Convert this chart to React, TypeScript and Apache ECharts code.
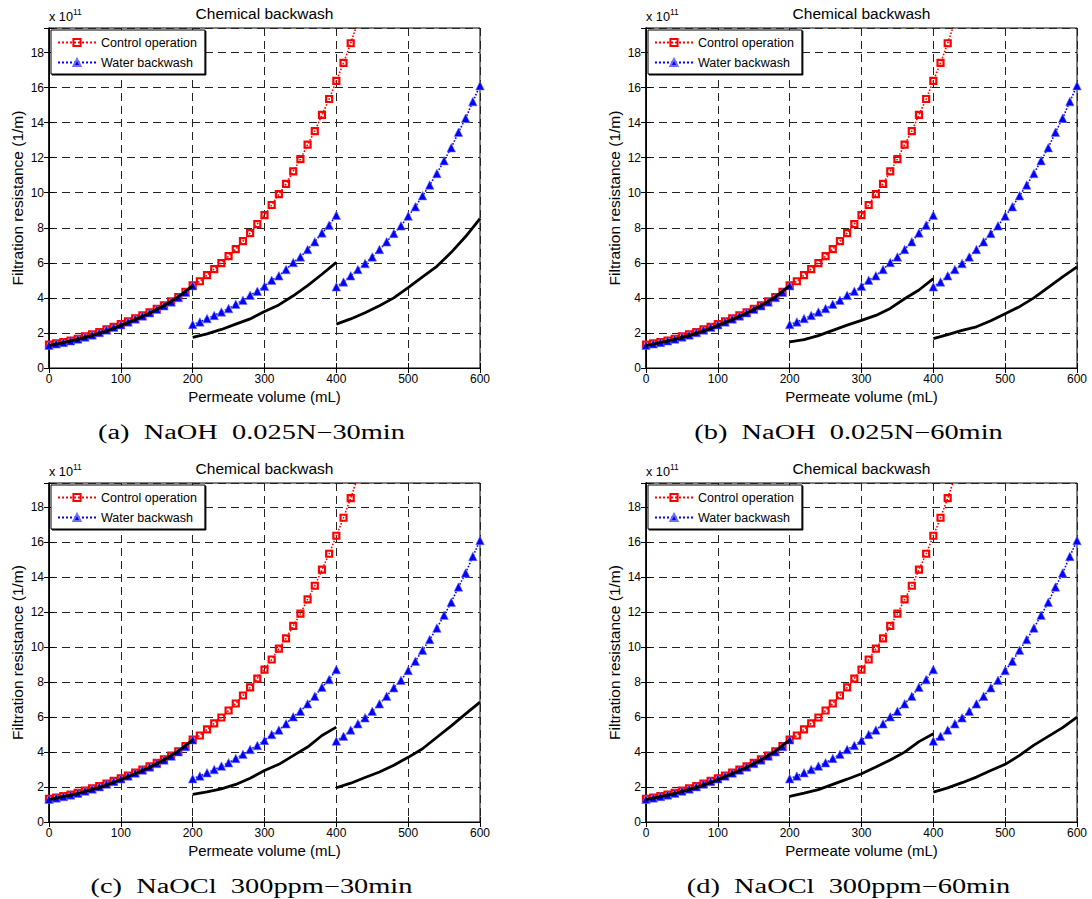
import React, { useEffect, useRef } from "react";
import * as echarts from "echarts";

// ---- x positions (mL) ----
const xSeg1 = [0, 10, 20, 30, 40, 50, 60, 70, 80, 90, 100, 110, 120, 130, 140, 150, 160, 170, 180, 190, 200];
const xControl = [
  0, 10, 20, 30, 40, 50, 60, 70, 80, 90, 100, 110, 120, 130, 140, 150, 160, 170, 180, 190, 200,
  210, 220, 230, 240, 250, 260, 270, 280, 290, 300, 310, 320, 330, 340, 350, 360, 370, 380, 390, 400,
  410, 420, 430,
];
const xSeg2 = [200, 210, 220, 230, 240, 250, 260, 270, 280, 290, 300, 310, 320, 330, 340, 350, 360, 370, 380, 390, 400];
const xSeg3 = [400, 410, 420, 430, 440, 450, 460, 470, 480, 490, 500, 510, 520, 530, 540, 550, 560, 570, 580, 590, 600];
const xChem1 = [0, 20, 40, 60, 80, 100, 120, 140, 160, 180, 200];
const xChem2 = [200, 220, 240, 260, 280, 300, 320, 340, 360, 380, 400];
const xChem3 = [400, 420, 440, 460, 480, 500, 520, 540, 560, 580, 600];

// ---- values (x 10^11 1/m) ----
const controlOperation = [
  1.33, 1.4, 1.48, 1.57, 1.67, 1.8, 1.92, 2.05, 2.2, 2.35, 2.5, 2.66, 2.83, 3.0, 3.18, 3.38, 3.58, 3.8, 4.05, 4.35, 4.72,
  4.95, 5.3, 5.64, 5.98, 6.38, 6.78, 7.24, 7.7, 8.21, 8.72, 9.3, 9.92, 10.51, 11.22, 11.92, 12.74, 13.52, 14.44, 15.35, 16.38,
  17.41, 18.53, 19.75,
];
const waterBackwash1 = [1.3, 1.38, 1.46, 1.55, 1.65, 1.77, 1.89, 2.02, 2.17, 2.32, 2.47, 2.63, 2.8, 2.97, 3.15, 3.35, 3.55, 3.77, 4.02, 4.32, 4.7];
const waterBackwash2 = [2.48, 2.63, 2.82, 3.0, 3.2, 3.39, 3.64, 3.87, 4.15, 4.38, 4.67, 5.01, 5.26, 5.62, 6.02, 6.34, 6.76, 7.2, 7.71, 8.15, 8.72];
const waterBackwash3 = [4.63, 4.91, 5.26, 5.62, 5.96, 6.34, 6.76, 7.2, 7.68, 8.11, 8.67, 9.2, 9.83, 10.44, 11.1, 11.83, 12.57, 13.45, 14.25, 15.2, 16.11];
const chemicalSeg1 = [1.28, 1.45, 1.63, 1.85, 2.1, 2.42, 2.76, 3.12, 3.55, 4.05, 4.7];

const chemA2 = [1.75, 1.95, 2.2, 2.5, 2.8, 3.22, 3.6, 4.12, 4.7, 5.35, 6.03];
const chemA3 = [2.5, 2.8, 3.15, 3.55, 4.0, 4.58, 5.2, 5.8, 6.6, 7.5, 8.53];
const chemB2 = [1.49, 1.62, 1.85, 2.15, 2.45, 2.72, 3.0, 3.4, 3.95, 4.45, 5.1];
const chemB3 = [1.68, 1.9, 2.15, 2.35, 2.7, 3.1, 3.5, 4.0, 4.6, 5.2, 5.77];
const chemC2 = [1.58, 1.72, 1.9, 2.15, 2.5, 2.95, 3.3, 3.8, 4.29, 4.95, 5.43];
const chemC3 = [1.96, 2.22, 2.55, 2.86, 3.25, 3.7, 4.19, 4.85, 5.5, 6.19, 6.86];
const chemD2 = [1.47, 1.65, 1.85, 2.15, 2.45, 2.76, 3.15, 3.55, 4.0, 4.6, 5.05];
const chemD3 = [1.71, 1.95, 2.25, 2.57, 2.95, 3.3, 3.81, 4.4, 4.9, 5.4, 6.0];

const captions = [
  "(a)  NaOH  0.025N\u221230min",
  "(b)  NaOH  0.025N\u221260min",
  "(c)  NaOCl  300ppm\u221230min",
  "(d)  NaOCl  300ppm\u221260min",
];
const chemSegments = [
  [chemA2, chemA3],
  [chemB2, chemB3],
  [chemC2, chemC3],
  [chemD2, chemD3],
];

const SANS = "'Liberation Sans', Arial, sans-serif";
const SERIF = "'Liberation Serif', serif";

const zip = (xs: number[], ys: number[]) => xs.map((x, i) => [x, ys[i]]);

export default function App() {
  const ref = useRef<HTMLDivElement>(null);
  useEffect(() => {
    if (!ref.current) return;
    const chart = echarts.init(ref.current, null, { renderer: "svg" });

    const grids = [
      { left: 49, top: 28, width: 431, height: 340 },
      { left: 646, top: 28, width: 431, height: 340 },
      { left: 49, top: 483, width: 431, height: 339 },
      { left: 646, top: 483, width: 431, height: 339 },
    ];

    const xAxes: any[] = [];
    const yAxes: any[] = [];
    const series: any[] = [];
    const legends: any[] = [];
    const graphics: any[] = [];

    const dashed = { show: true, lineStyle: { color: "#222", type: [8, 5], width: 1 } };

    grids.forEach((g, i) => {
      xAxes.push({
        gridIndex: i, type: "value", min: 0, max: 600, interval: 100,
        axisLine: { show: true, lineStyle: { color: "#000", width: 1 } },
        axisTick: { show: true, inside: true, length: 5, lineStyle: { color: "#000" } },
        axisLabel: { color: "#000", fontSize: 12, fontFamily: SANS, margin: 5 },
        splitLine: dashed,
        name: "Permeate volume (mL)", nameLocation: "middle", nameGap: 21,
        nameTextStyle: { color: "#000", fontSize: 15, fontFamily: SANS },
      });
      yAxes.push({
        gridIndex: i, type: "value", min: 0, max: 19.4, interval: 2,
        axisLine: { show: true, lineStyle: { color: "#000", width: 1 } },
        axisTick: { show: true, inside: true, length: 5, lineStyle: { color: "#000" } },
        axisLabel: {
          color: "#000", fontSize: 12, fontFamily: SANS, margin: 5,
          formatter: (v: number) => (Math.abs(v / 2 - Math.round(v / 2)) < 1e-6 ? String(v) : ""),
        },
        splitLine: dashed,
        name: "Filtration resistance (1/m)", nameLocation: "middle", nameGap: 24,
        nameTextStyle: { color: "#000", fontSize: 15.5, fontFamily: SANS },
      });
    });
    // mirrored axes (top / right) for box ticks
    grids.forEach((g, i) => {
      xAxes.push({
        gridIndex: i, type: "value", min: 0, max: 600, interval: 100, position: "top",
        axisLine: { show: true, lineStyle: { color: "#000", width: 1 } },
        axisTick: { show: true, inside: true, length: 5, lineStyle: { color: "#000" } },
        axisLabel: { show: false }, splitLine: { show: false },
      });
      yAxes.push({
        gridIndex: i, type: "value", min: 0, max: 19.4, interval: 2, position: "right",
        axisLine: { show: true, lineStyle: { color: "#000", width: 1.5 } },
        axisTick: { show: true, inside: true, length: 5, lineStyle: { color: "#000" } },
        axisLabel: { show: false }, splitLine: { show: false },
      });
    });

    grids.forEach((g, i) => {
      const common = { xAxisIndex: i, yAxisIndex: i, clip: true };
      series.push({
        ...common, type: "line", name: "Control operation",
        data: zip(xControl, controlOperation),
        symbol: "rect", symbolSize: 6, showAllSymbol: true,
        lineStyle: { color: "#ff0000", type: "dotted", width: 1.6 },
        itemStyle: { color: "rgba(255,255,255,0)", borderColor: "#ff0000", borderWidth: 2.2 },
        z: 2,
      });
      [
        [xSeg1, waterBackwash1],
        [xSeg2, waterBackwash2],
        [xSeg3, waterBackwash3],
      ].forEach(([xs, ys]) => {
        series.push({
          ...common, type: "line", name: "Water backwash",
          data: zip(xs as number[], ys as number[]),
          symbol: "triangle", symbolSize: 8.5, showAllSymbol: true,
          lineStyle: { color: "#0000ff", type: "dotted", width: 1.6 },
          itemStyle: { color: "#0000ff", borderColor: "#6f6fff", borderWidth: 0.6 },
          z: 3,
        });
      });
      const chemData = [
        [xChem1, chemicalSeg1],
        [xChem2, chemSegments[i][0]],
        [xChem3, chemSegments[i][1]],
      ];
      chemData.forEach(([xs, ys]) => {
        series.push({
          ...common, type: "line", name: "Chemical backwash",
          data: zip(xs as number[], ys as number[]),
          showSymbol: false, symbol: "none",
          lineStyle: { color: "#000", type: "solid", width: 2.8 },
          itemStyle: { color: "#000" },
          z: 4,
        });
      });

      legends.push({
        data: ["Control operation", "Water backwash"],
        orient: "vertical", left: g.left + 2, top: g.top + 2,
        itemWidth: 38, itemHeight: 9, itemGap: 7,
        padding: [6, 8, 5, 6],
        backgroundColor: "#fff", borderColor: "#000", borderWidth: 1,
        shadowColor: "#000", shadowOffsetX: 1, shadowOffsetY: 1, shadowBlur: 0,
        textStyle: { color: "#000", fontSize: 12.5, fontFamily: SANS },
        selectedMode: false,
      });

      const cx = g.left + g.width / 2;
      graphics.push({
        type: "text", x: cx, y: g.top - 15,
        style: { text: "Chemical backwash", fill: "#000", fontSize: 15.5, fontFamily: SANS, align: "center", verticalAlign: "middle" },
      });
      graphics.push({
        type: "text", x: g.left, y: g.top - 11,
        style: {
          text: "x 10{sup|11}", fill: "#000", fontSize: 12.7, fontFamily: SANS, align: "left", verticalAlign: "middle",
          rich: { sup: { fontSize: 8.5, fontFamily: SANS, fill: "#000", verticalAlign: "bottom", padding: [0, 0, 11, 0] } },
        },
      });
      graphics.push({
        type: "text", x: cx - 13, y: g.top + g.height + 64, scaleX: 1.42,
        style: { text: captions[i], fill: "#000", fontSize: 20, fontFamily: SERIF, align: "center", verticalAlign: "middle" },
      });
    });

    chart.setOption({
      animation: false,
      backgroundColor: "#fff",
      grid: grids.map((g) => ({ ...g, show: true, borderColor: "#000", borderWidth: 1, backgroundColor: "#fff" })),
      xAxis: xAxes,
      yAxis: yAxes,
      legend: legends,
      series,
      graphic: graphics,
    });
    return () => chart.dispose();
  }, []);

  return (
    <div
      ref={ref}
      style={{ position: "absolute", left: 0, top: 0, width: 1092, height: 899, background: "#fff" }}
    />
  );
}
